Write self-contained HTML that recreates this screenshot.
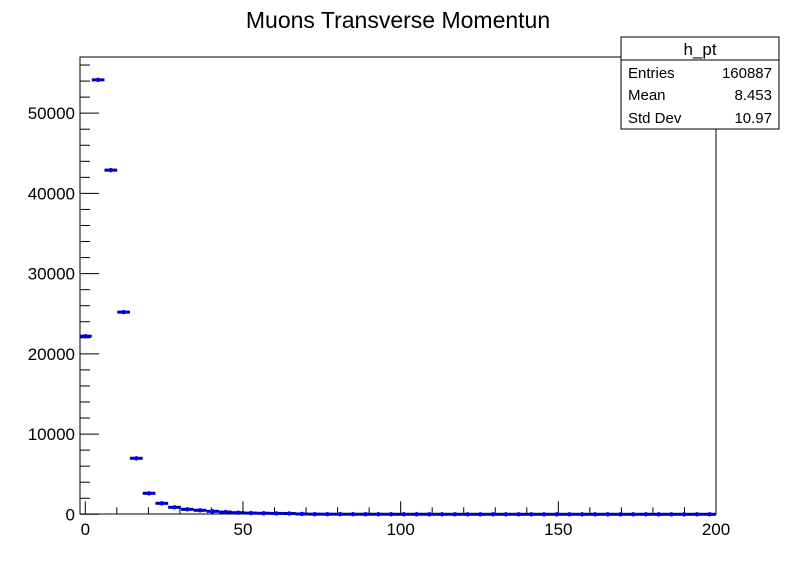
<!DOCTYPE html>
<html><head><meta charset="utf-8"><style>
body{margin:0;background:#fff;}
svg{display:block;font-family:"Liberation Sans",Arial,sans-serif;}
</style></head><body>
<svg id="c" width="796" height="572">
<rect width="796" height="572" fill="#fff"/>
<text x="398" y="28" font-size="23" text-anchor="middle">Muons Transverse Momentun</text>
<rect x="80" y="57" width="636" height="457" fill="none" stroke="#000" stroke-width="1"/>
<g id="axes"></g>
<g id="marks"></g>
<g>
<rect x="621" y="37" width="158" height="92" fill="#fff" stroke="#000"/>
<line x1="621" y1="60" x2="779" y2="60" stroke="#000"/>
<text x="700" y="55" font-size="17" text-anchor="middle">h_pt</text>
<text x="628" y="78" font-size="15">Entries</text>
<text x="772" y="78" font-size="15" text-anchor="end">160887</text>
<text x="628" y="100" font-size="15">Mean</text>
<text x="772" y="100" font-size="15" text-anchor="end">8.453</text>
<text x="628" y="123" font-size="15">Std Dev</text>
<text x="772" y="123" font-size="15" text-anchor="end">10.97</text>
</g>
</svg>
<script>
const binCenters=[0.02,4.06,8.1,12.14,16.18,20.22,24.26,28.3,32.34,36.38,40.42,44.46,48.5,52.54,56.58,60.62,64.66,68.7,72.74,76.78,80.82,84.86,88.9,92.94,96.98,101.02,105.06,109.1,113.14,117.18,121.22,125.26,129.3,133.34,137.38,141.42,145.46,149.5,153.54,157.58,161.62,165.66,169.7,173.74,177.78,181.82,185.86,189.9,193.94,197.98];
const counts=[22200,54150,42900,25200,6980,2620,1370,870,620,500,370,280,200,150,130,110,100,40,20,15,12,10,8,7,6,5,5,4,4,3,3,3,2,2,2,2,2,1,1,1,1,1,1,1,1,1,1,1,1,1];
const xTickLabels=[0,50,100,150,200];
const yTickLabels=[0,10000,20000,30000,40000,50000];
const NS='http://www.w3.org/2000/svg';
const X0=80,X1=716,Y0=514.3,YT=57;
const ymax=57000,binW=4.04;
function sx(v){return 85.3+v*3.1535;}
function sy(v){return Y0-v/ymax*(Y0-YT);}
function mk(tag,attrs,parent){const e=document.createElementNS(NS,tag);for(const k in attrs)e.setAttribute(k,attrs[k]);parent.appendChild(e);return e;}
const ax=document.getElementById('axes'),mg=document.getElementById('marks');
for(let v=0;v<=200;v+=10){
  const major=v%50===0;
  const t=mk('line',{x1:sx(v),x2:sx(v),y1:Y0,y2:Y0-(major?13:7),stroke:'#000'},ax);
  
  
}
xTickLabels.forEach(v=>{
  const t=mk('text',{x:sx(v),y:535,'font-size':17,'text-anchor':'middle'},ax);
  t.textContent=v;
  
  
});
for(let v=0;v<=56000;v+=2000){
  const major=v%10000===0;
  const t=mk('line',{x1:X0,x2:X0+(major?19:10),y1:sy(v),y2:sy(v),stroke:'#000'},ax);
  
  
}
yTickLabels.forEach(v=>{
  const t=mk('text',{x:75,y:sy(v)+6,'font-size':17,'text-anchor':'end'},ax);
  t.textContent=v;
  
  
});
binCenters.forEach((c,i)=>{
  const a=Math.max(X0,sx(c-binW/2)),b=Math.min(X1,sx(c+binW/2));
  const y=sy(counts[i]);
  const l=mk('line',{x1:a,x2:b,y1:y,y2:y,stroke:'#0000b0','stroke-width':3},mg);
  
  
  const p=mk('circle',{cx:sx(c),cy:y,r:2.2,fill:'#0000ff'},mg);
  
  
});
</script>
</body></html>
